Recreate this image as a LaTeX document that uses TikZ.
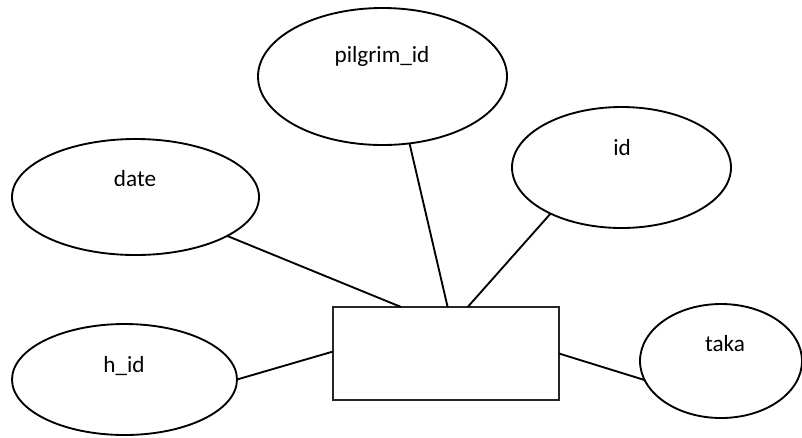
\documentclass[tikz,border=0pt]{standalone}
\usepackage{fontspec}
\setmainfont{Carlito}
\usetikzlibrary{shapes.geometric}
\begin{document}
\begin{tikzpicture}[x=0.75pt, y=-0.75pt,
  attr/.style={ellipse, draw=black, line width=1.4pt, inner sep=0pt, outer sep=0pt},
  entity/.style={rectangle, draw=black!85, line width=1.6pt, inner sep=0pt, outer sep=0pt,
    minimum width=169.5pt, minimum height=69.75pt},
  lbl/.style={anchor=base, inner sep=0pt, font=\fontsize{17.4}{20}\selectfont},
  link/.style={draw=black, line width=1.4pt}]
  \useasboundingbox (0,0) rectangle (802,437);

  % entity box
  \node[entity] (rel) at (446,353.5) {};

  % attribute ellipses
  \node[attr, minimum width=186.75pt, minimum height=102.75pt] (pilgrim) at (382.5,76.5) {};
  \node[attr, minimum width=185.25pt, minimum height=87pt] (date) at (135.5,197) {};
  \node[attr, minimum width=164.25pt, minimum height=90.75pt] (id) at (621.5,167.5) {};
  \node[attr, minimum width=168.75pt, minimum height=83.25pt] (hid) at (124.5,379.5) {};
  \node[attr, minimum width=121.5pt, minimum height=85.5pt] (taka) at (721,361) {};

  % attribute names
  \node[lbl] (pilgrim-t) at (382,62) {pilgrim\_id};
  \node[lbl] (date-t) at (135,186.5) {date};
  \node[lbl] (id-t) at (622,155) {id};
  \node[lbl] (hid-t) at (124,372.5) {h\_id};
  \node[lbl] (taka-t) at (725,351.5) {taka};

  % connectors
  \draw[link] (date.-23.2) -- (rel.134.7);
  \draw[link] (pilgrim.-68.1) -- (rel.88.8);
  \draw[link] (id.-147.1) -- (rel.65.7);
  \draw[link] (hid.0) -- (rel.179.2);
  \draw[link] (rel.0.8) -- (taka.194.4);
\end{tikzpicture}
\end{document}
